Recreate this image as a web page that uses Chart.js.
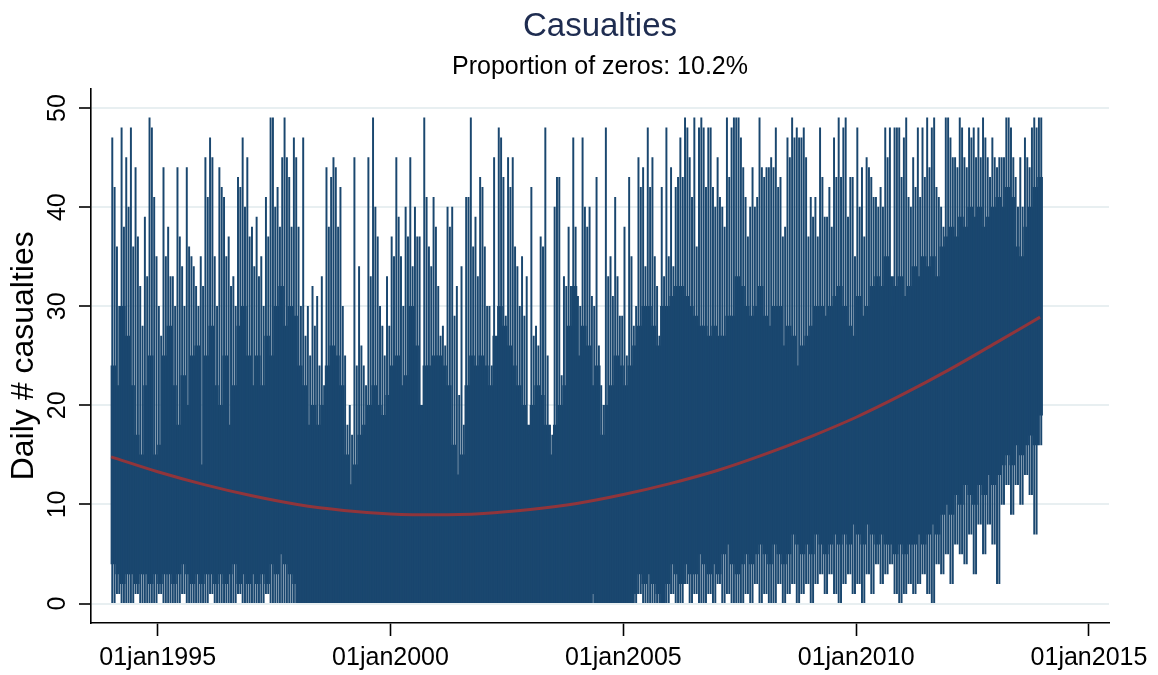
<!DOCTYPE html>
<html>
<head>
<meta charset="utf-8">
<title>Casualties</title>
<script src="https://cdn.jsdelivr.net/npm/chart.js@4.4.1/dist/chart.umd.min.js"></script>
<style>
  html, body { margin: 0; padding: 0; background: #fff; }
  #wrap { width: 1158px; height: 675px; }
</style>
</head>
<body>
<div id="wrap"><canvas id="chart" width="1158" height="675"></canvas></div>
<script>
// ============================
// Data
// daily counts summarised per 0.1-year bin, 1994.0 .. 2014.0 (200 bins)
// ============================
const BIN_START = 1994.0;
const BIN_WIDTH = 0.1;

// bottom of the solid band in each bin
const binLow = [
  4,3,2,3,3,2,3,3,2,3,   2,3,3,2,3,4,3,2,3,2,
  3,3,2,3,2,3,4,2,3,2,   3,2,3,2,4,3,5,4,3,2,
  0,0,0,0,0,0,0,0,0,0,   0,0,0,0,0,0,0,0,0,0,
  0,0,0,0,0,0,0,0,0,0,   0,0,0,0,0,0,0,0,0,0,
  0,0,0,0,0,0,0,0,0,0,   0,0,0,0,0,0,0,0,0,0,
  0,0,0,1,0,0,0,0,0,0,   0,0,1,3,2,3,2,1,0,2,
  4,3,2,4,3,3,5,4,3,4,   3,5,6,4,3,4,5,4,5,6,
  5,4,6,5,4,5,7,6,5,6,   5,7,6,5,6,7,6,7,6,8,
  7,6,8,7,6,7,6,6,5,6,   5,6,6,7,6,7,8,7,9,10,
  9,11,10,12,11,10,12,11,13,12,   13,14,15,14,16,15,16,17,16,19
];

// top of the solid band in each bin
const binCore = [
  24,22,30,27,22,17,15,22,25,15,   16,25,28,22,18,23,20,25,26,14,
  25,28,22,20,25,18,22,28,30,25,   22,25,22,27,25,30,32,28,30,29,
  24,22,18,20,18,20,24,26,25,22,   15,12,14,17,18,20,22,20,19,21,
  24,25,22,23,30,26,20,24,24,25,   25,24,22,16,13,15,22,25,24,25,
  24,22,27,30,28,26,24,22,20,18,   20,22,21,18,15,18,20,22,28,32,
  25,28,26,22,24,17,20,22,25,24,   22,24,26,28,30,30,28,26,30,30,
  31,32,32,31,30,29,28,28,27,28,   27,27,29,29,33,32,30,29,30,32,
  29,28,30,30,26,28,27,24,26,27,   28,30,30,29,30,31,32,30,28,27,
  31,29,30,32,33,32,35,33,32,33,   31,32,34,33,35,34,35,33,36,37,
  38,37,39,38,40,39,40,38,39,40,   41,40,42,41,36,35,38,40,42,43
];

// two spikes per bin: their tops, and how far down they reach
const spikeHighA = [
  47,36,48,45,48,44,32,39,49,41,   30,44,38,33,44,34,44,35,32,35,
  45,47,35,44,41,37,33,43,47,45,   38,39,35,41,49,40,38,49,43,47,
  38,47,30,32,31,33,44,43,44,42,   25,20,45,34,24,45,49,37,28,33,
  37,45,35,40,45,40,37,49,36,41,   32,28,40,40,32,34,41,49,39,43,
  36,30,45,48,43,45,45,34,35,33,   42,28,37,48,18,40,43,33,38,47,
  31,47,38,31,43,22,48,35,41,29,   38,43,28,45,44,48,45,32,42,48,
  44,42,47,49,45,49,48,48,48,42,   45,40,49,48,49,47,41,40,40,49,
  43,44,44,42,37,47,49,48,47,45,   41,41,48,39,42,47,49,48,39,43,
  48,44,45,43,41,42,48,48,48,48,   47,41,45,48,48,49,48,42,40,49,
  47,45,49,45,48,48,48,49,45,47,   44,45,49,48,43,45,47,44,49,49
];
const spikeHighB = [
  42,30,38,40,36,37,28,33,48,35,   27,35,33,30,37,30,36,34,30,32,
  41,45,30,42,35,32,30,42,40,37,   34,33,30,37,49,42,45,45,38,45,
  30,27,25,28,24,22,38,45,38,30,   18,17,24,26,22,33,40,30,25,28,
  35,39,30,37,34,37,18,41,34,38,   27,26,38,29,21,18,41,36,33,42,
  30,24,23,47,29,42,36,30,29,17,   27,26,36,25,17,43,23,32,32,38,
  30,40,40,30,26,20,33,31,33,29,   25,35,30,42,34,42,35,27,33,35,
  34,43,43,48,41,36,49,42,48,40,   41,38,43,49,49,44,37,44,41,44,
  44,45,48,43,38,45,47,47,48,37,   39,37,43,39,38,43,43,49,43,35,
  40,37,44,41,40,40,45,30,48,43,   49,40,42,41,43,44,49,41,38,49,
  45,44,48,44,47,45,45,47,43,45,   45,45,49,45,40,40,45,48,48,49
];
const spikeLow = [
  0,1,0,0,0,1,0,0,0,0,   1,0,0,0,0,1,0,0,0,0,
  0,1,0,0,0,0,0,1,0,0,   0,0,0,1,0,0,0,0,0,0,
  0,0,0,0,0,0,0,0,0,0,   0,0,0,0,0,0,0,0,0,0,
  0,0,0,0,0,0,0,0,0,0,   0,0,0,0,0,0,0,0,0,0,
  0,0,0,0,0,0,0,0,0,0,   0,0,0,0,0,0,0,0,0,0,
  0,0,0,0,0,0,0,0,0,0,   0,0,0,1,0,0,0,0,0,0,
  1,0,0,2,0,1,0,0,1,0,   2,0,1,0,0,0,1,0,2,0,
  1,0,0,2,0,1,2,0,1,2,   0,2,3,1,3,1,0,2,3,1,
  2,0,3,1,4,2,3,4,1,0,   1,2,1,2,3,1,0,4,3,5,
  2,6,5,4,7,3,8,5,8,6,   2,10,12,9,12,10,13,11,7,16
];

// quadratic fit line, read at yearly points
const fitYears  = [1994, 1995, 1996, 1997, 1998, 1999, 2000, 2001, 2002, 2003, 2004,
                   2005, 2006, 2007, 2008, 2009, 2010, 2011, 2012, 2013, 2013.95];
const fitValues = [14.8, 13.3, 12.0, 10.9, 10.0, 9.4, 9.05, 8.95, 9.1, 9.5, 10.1,
                   11.0, 12.1, 13.4, 15.0, 16.8, 18.8, 21.1, 23.6, 26.3, 28.9];

// axes
const xTickYears  = [1995, 2000, 2005, 2010, 2015];
const xTickLabels = ["01jan1995", "01jan2000", "01jan2005", "01jan2010", "01jan2015"];
const yTickValues = [0, 10, 20, 30, 40, 50];

// ============================
// Styles
// ============================
const NAVY = "#1a476f";
const MAROON = "#90353b";
const GRID = "#e8eff1";
const TITLE_COLOR = "#1e2c50";
const FONT = "'Liberation Sans', Arial, sans-serif";

Chart.defaults.font.family = FONT;

// ============================
// Build datasets
// ============================
function binX(i, shift) {
    return BIN_START + (i + 0.5) * BIN_WIDTH + shift;
}

const coreData = binCore.map((v, i) => ({ x: binX(i, 0), y: [binLow[i], v] }));
const spikeAData = spikeHighA.map((v, i) => ({ x: binX(i, -0.025), y: [spikeLow[i], v] }));
const spikeBData = spikeHighB.map((v, i) => ({ x: binX(i, 0.025), y: [spikeLow[i], v] }));
const fitData = fitYears.map((yr, i) => ({ x: yr, y: fitValues[i] }));

const ctx = document.getElementById("chart").getContext("2d");

new Chart(ctx, {
    type: "bar",
    data: {
        datasets: [
            {
                type: "line", label: "fit", data: fitData,
                borderColor: MAROON, borderWidth: 3, pointRadius: 0,
                cubicInterpolationMode: "monotone", fill: false, order: 0
            },
            { label: "spikeB", data: spikeBData, backgroundColor: NAVY, barThickness: 1.3, grouped: false, borderWidth: 0, order: 1 },
            { label: "spikeA", data: spikeAData, backgroundColor: NAVY, barThickness: 1.3, grouped: false, borderWidth: 0, order: 2 },
            { label: "core", data: coreData, backgroundColor: NAVY, barThickness: 5, grouped: false, borderWidth: 0, order: 3 }
        ]
    },
    options: {
        responsive: false,
        animation: false,
        layout: { padding: { right: 49 } },
        plugins: {
            legend: { display: false },
            tooltip: { enabled: false },
            title: {
                display: true, text: "Casualties", color: TITLE_COLOR, fullSize: false,
                font: { size: 33, weight: "normal" }, padding: { top: 7, bottom: 0 }
            },
            subtitle: {
                display: true, text: "Proportion of zeros: 10.2%", color: "#000", fullSize: false,
                font: { size: 25, weight: "normal" }, padding: { top: 6, bottom: 6 }
            }
        },
        scales: {
            x: {
                type: "linear", min: 1993.568, max: 2015.43, offset: false,
                afterBuildTicks: (s) => { s.ticks = xTickYears.map(v => ({ value: v })); },
                afterFit: (s) => { s.height = 52; },
                ticks: {
                    color: "#000", font: { size: 25 }, padding: 7, autoSkip: false,
                    minRotation: 0, maxRotation: 0,
                    callback: (v, i) => xTickLabels[i]
                },
                grid: { drawOnChartArea: false, drawTicks: true, tickLength: 13, tickColor: "#000", tickWidth: 1.6, offset: false },
                border: { display: true, color: "#000", width: 1.6 }
            },
            y: {
                type: "linear", min: -1.96, max: 51.96,
                afterBuildTicks: (s) => { s.ticks = yTickValues.map(v => ({ value: v })); },
                afterFit: (s) => { s.width = 91; },
                ticks: {
                    color: "#000", font: { size: 25 }, autoSkip: false,
                    minRotation: 90, maxRotation: 90, crossAlign: "center", padding: 7
                },
                grid: { color: GRID, lineWidth: 2, drawTicks: true, tickLength: 12, tickColor: "#000", tickWidth: 1.6 },
                border: { display: true, color: "#000", width: 1.6 },
                title: {
                    display: true, text: "Daily # casualties", color: "#000",
                    font: { size: 32 }, padding: { top: 5, bottom: 0 }
                }
            }
        }
    }
});
</script>
</body>
</html>
